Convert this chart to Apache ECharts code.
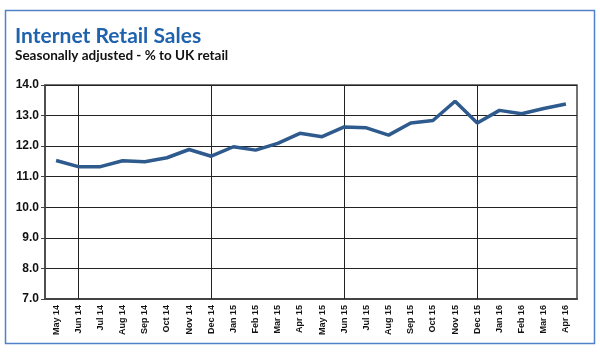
<!DOCTYPE html>
<html>
<head>
<meta charset="utf-8">
<script src="https://cdn.jsdelivr.net/npm/echarts@6/dist/echarts.min.js"></script>
<style>html,body{margin:0;padding:0;background:#fff}#c{width:600px;height:359px}</style>
</head>
<body>
<div id="c"></div>
<script>
const categories = ['May 14','Jun 14','Jul 14','Aug 14','Sep 14','Oct 14','Nov 14','Dec 14','Jan 15','Feb 15','Mar 15','Apr 15','May 15','Jun 15','Jul 15','Aug 15','Sep 15','Oct 15','Nov 15','Dec 15','Jan 16','Feb 16','Mar 16','Apr 16'];
const salesShare = [11.53,11.33,11.33,11.52,11.49,11.62,11.89,11.67,11.98,11.87,12.09,12.42,12.31,12.63,12.60,12.36,12.76,12.84,13.47,12.76,13.17,13.06,13.23,13.38];
const verticalMarks = ['Jun 14','Dec 14','Jun 15','Dec 15'];
const titleText = 'Internet Retail Sales';
const subtitleText = 'Seasonally adjusted - % to UK retail';

const chart = echarts.init(document.getElementById('c'));
chart.setOption({
  animation: false,
  graphic: [{
    type: 'rect', shape: {x: 5.5, y: 10.5, width: 589, height: 333},
    style: {fill: 'none', stroke: '#4f82c9', lineWidth: 1.5}, silent: true
  }],
  title: {
    text: titleText, subtext: subtitleText, left: 15, top: 26, itemGap: 2, padding: 0,
    textStyle: {fontFamily: 'Lato', fontWeight: 'bold', fontSize: 21, color: '#1f62ad'},
    subtextStyle: {fontFamily: 'Lato', fontWeight: 'bold', fontSize: 13.5, color: '#111'}
  },
  grid: {left: 45, right: 23, top: 85, bottom: 60, show: true, borderColor: '#444', borderWidth: 1.5, backgroundColor: '#fff'},
  xAxis: {
    type: 'category', data: categories, boundaryGap: true,
    axisLine: {lineStyle: {color: '#444', width: 2}},
    axisTick: {show: false},
    axisLabel: {rotate: 90, interval: 0, fontSize: 9, fontWeight: 'bold', fontFamily: 'Liberation Sans', color: '#111', margin: 6}
  },
  yAxis: {
    type: 'value', min: 7, max: 14, interval: 1,
    axisLine: {show: true, lineStyle: {color: '#444', width: 1.5}},
    axisTick: {show: true, length: 4, lineStyle: {color: '#444'}},
    axisLabel: {formatter: v => v.toFixed(1), fontSize: 12, fontWeight: 'bold', fontFamily: 'Liberation Sans', color: '#111', margin: 6},
    splitLine: {lineStyle: {color: '#222', width: 1}}
  },
  series: [{
    type: 'line', data: salesShare, symbol: 'none',
    lineStyle: {color: '#2e5a8e', width: 3.5},
    markLine: {
      silent: true, symbol: 'none', label: {show: false},
      lineStyle: {color: '#222', width: 1, type: 'solid'},
      data: verticalMarks.map(c => ({xAxis: c}))
    },
    z: 5
  }]
});
</script>
</body>
</html>
